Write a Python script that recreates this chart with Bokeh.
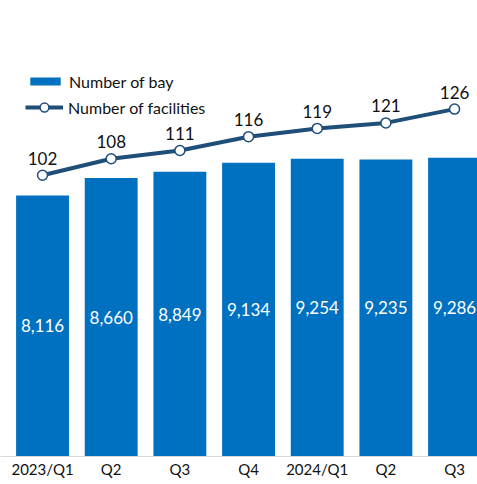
from bokeh.plotting import figure
from bokeh.models import Range1d, Legend, LegendItem, ColumnDataSource, FixedTicker
from bokeh.core.properties import value
from bokeh.embed import file_html
from bokeh.resources import INLINE

quarters = ["2023/Q1", "Q2", "Q3", "Q4", "2024/Q1", "Q2", "Q3"]
bays = [8116, 8660, 8849, 9134, 9254, 9235, 9286]
facilities = [102, 108, 111, 116, 119, 121, 126]

FONT = value("Lato")
idx = list(range(len(quarters)))
src = ColumnDataSource(dict(
    x=idx,
    bay=bays,
    bay_half=[v / 2 for v in bays],
    bay_label=[f"{v:,}" for v in bays],
    fac=facilities,
    fac_label=[str(v) for v in facilities],
))

p = figure(width=477, height=484, output_backend="svg", toolbar_location=None,
           x_range=Range1d(-0.612, 6.334), y_range=Range1d(0, 12000),
           y_axis_location=None, min_border_top=70, min_border_left=0,
           min_border_right=0, min_border_bottom=28)
p.extra_y_ranges = {"fac": Range1d(0, 140)}
p.outline_line_color = None
p.xgrid.visible = False
p.ygrid.visible = False

bars = p.vbar(x="x", top="bay", width=0.77, source=src, fill_color="#0070C0", line_color=None)
p.text(x="x", y="bay_half", text="bay_label", source=src, text_color="white",
       text_align="center", text_baseline="middle", text_font=FONT, text_font_size="17px")

line = p.line(x="x", y="fac", source=src, y_range_name="fac", line_color="#1F4E79", line_width=4)
pts = p.scatter(x="x", y="fac", source=src, y_range_name="fac", size=10,
                fill_color="white", line_color="#1F4E79", line_width=1.5)
p.text(x="x", y="fac", text="fac_label", source=src, y_range_name="fac",
       text_align="center", text_baseline="alphabetic", y_offset=-17,
       text_color="#111111", text_font=FONT, text_font_size="17px")

ax = p.xaxis[0]
ax.ticker = FixedTicker(ticks=idx)
ax.major_label_overrides = {i: q for i, q in zip(idx, quarters)}
ax.major_tick_line_color = None
ax.major_tick_out = 0
ax.major_tick_in = 0
ax.minor_tick_line_color = None
ax.axis_line_color = "#D9D9D9"
ax.major_label_text_font = "Lato"
ax.major_label_text_font_size = "15px"
ax.major_label_text_color = "#111111"
ax.major_label_standoff = 3

common = dict(margin=0, padding=0, spacing=0, glyph_width=38, label_height=20,
              label_standoff=5, label_text_font="Lato", label_text_font_size="16px",
              label_text_color="#111111", border_line_color=None, background_fill_alpha=0)
legend1 = Legend(items=[LegendItem(label="Number of bay", renderers=[bars])],
                 location=(26, 365), glyph_height=10, **common)
legend2 = Legend(items=[LegendItem(label="Number of facilities", renderers=[line, pts])],
                 location=(25, 338), glyph_height=22, **common)
p.add_layout(legend1)
p.add_layout(legend2)

open("out.html", "w").write(file_html(p, INLINE))
